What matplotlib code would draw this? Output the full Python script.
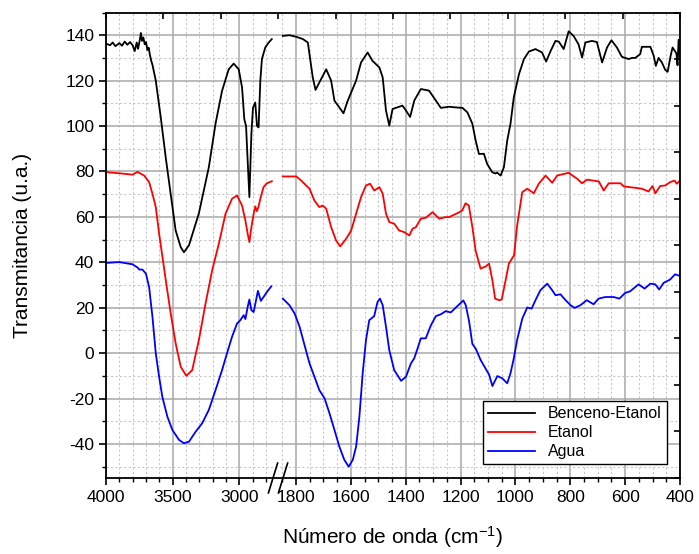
import matplotlib
matplotlib.use('Agg')
import numpy as np
import matplotlib.pyplot as plt
from matplotlib.ticker import FixedLocator, NullFormatter

plt.rcParams['font.family'] = ['Liberation Sans', 'DejaVu Sans']
plt.rcParams['mathtext.default'] = 'regular'
plt.rcParams['axes.unicode_minus'] = False

# Benceno-Etanol (black)
wn_be = [4000, 3970, 3950, 3930, 3900, 3880, 3860, 3840, 3820, 3800, 3785, 3770, 3760, 3745,
         3739, 3730, 3720, 3710, 3700, 3690, 3680, 3670, 3660, 3652, 3627, 3590, 3552,
         3515, 3478, 3440, 3416, 3378, 3304, 3229, 3179, 3130, 3080, 3043, 3005, 2980, 2963,
         2950, 2938, 2925, 2910, 2898, 2881, 2868, 2856, 2843, 2831, 2806, 2780, 2757,
         1848, 1824, 1799, 1775, 1757, 1751, 1739, 1729, 1715, 1690, 1672, 1660, 1642, 1627,
         1612, 1581, 1563, 1539, 1521, 1496, 1484, 1472, 1460, 1448, 1412, 1400, 1384, 1369,
         1345, 1315, 1290, 1272, 1242, 1217, 1193, 1175, 1157, 1145, 1133, 1115, 1103, 1085,
         1073, 1067, 1054, 1042, 1030, 1018, 1006, 987, 969, 951, 927, 903, 888, 872, 854,
         842, 824, 806, 788, 770, 757, 745, 721, 703, 684, 666, 650, 630, 612, 587, 575, 563,
         545, 539, 508, 496, 488, 478, 466, 454, 445, 434, 427, 413, 409, 405, 400]
tr_be = [136.3, 135.6, 136.8, 135.2, 136.5, 135.4, 137.2, 135.8, 137.0, 135.5, 133.0, 136.8,
         134.0, 138.5, 141.0, 137.5, 139.0, 136.0, 137.0, 133.5, 134.5, 131.0, 128.5, 127.0,
         120.0, 104.0, 86.0, 70.0, 54.0, 46.7, 44.4, 47.5, 61.5, 81.9, 101.0, 115.5, 125.0,
         127.5, 125.0, 117.0, 103.0, 100.0, 84.8, 68.7, 96.6, 108.0, 110.4, 100.0, 99.4, 120.0,
         129.5, 134.6, 136.8, 138.3,
         139.7, 140.0, 139.3, 138.3, 136.8, 131.7, 121.4, 115.9, 119.2, 125.0, 120.0, 111.2,
         108.2, 105.6, 111.0, 120.0, 128.0, 132.4, 128.7, 125.8, 121.4, 106.8, 100.2, 107.5,
         109.0, 107.0, 104.0, 111.2, 116.3, 115.6, 111.2, 108.0, 108.5, 108.2, 108.0, 106.0,
         101.0, 93.6, 87.7, 87.8, 83.3, 79.7, 79.1, 79.5, 78.2, 81.9, 93.6, 101.0, 112.6,
         122.9, 129.5, 132.8, 133.9, 132.4, 128.4, 133.0, 137.5, 137.2, 133.9, 141.7, 139.7,
         136.0, 130.2, 136.8, 137.5, 137.0, 128.0, 134.6, 137.8, 134.6, 130.5, 129.5, 130.0,
         130.0, 131.7, 134.9, 134.9, 131.0, 126.5, 130.0, 128.0, 124.8, 123.9, 131.0, 134.6,
         132.0, 126.8, 138.0, 130.0]

# Etanol (red)
wn_et = [4000, 3900, 3801, 3764, 3714, 3677, 3652, 3627, 3602, 3552, 3515, 3478, 3440, 3398,
         3354, 3304, 3254, 3204, 3154, 3104, 3055, 3018, 2980, 2955, 2938, 2925, 2910, 2893,
         2881, 2869, 2856, 2843, 2819, 2794, 2757,
         1848, 1799, 1781, 1763, 1751, 1733, 1715, 1703, 1690, 1672, 1654, 1639, 1617, 1599,
         1581, 1563, 1545, 1530, 1515, 1496, 1484, 1472, 1460, 1442, 1424, 1406, 1387, 1375,
         1363, 1345, 1327, 1302, 1278, 1254, 1242, 1212, 1194, 1182, 1170, 1157, 1145, 1127,
         1108, 1096, 1084, 1074, 1060, 1050, 1036, 1024, 1005, 994, 975, 957, 933, 915, 890,
         866, 848, 806, 775, 757, 739, 696, 678, 660, 617, 605, 563, 539, 515, 500, 490, 472,
         454, 436, 420, 412, 400]
tr_et = [79.7, 79.2, 78.6, 79.8, 78.2, 75.3, 70.2, 64.3, 52.6, 32.1, 17.4, 4.3, -6.0, -10.0,
         -7.5, 5.7, 21.8, 36.5, 48.2, 61.4, 68.0, 69.4, 65.0, 58.4, 52.6, 48.9, 55.5, 61.4,
         64.6, 62.5, 64.6, 68.0, 73.1, 74.8, 75.7,
         77.8, 77.8, 76.0, 73.8, 72.4, 67.2, 64.3, 65.0, 63.6, 55.5, 49.6, 47.0, 50.4, 54.0,
         61.4, 68.7, 73.8, 74.6, 71.6, 73.1, 70.2, 61.4, 57.7, 57.0, 54.0, 53.3, 51.8, 54.8,
         55.5, 59.2, 59.6, 62.1, 59.2, 59.9, 59.9, 61.6, 62.8, 66.0, 65.0, 55.5, 45.0, 37.2,
         38.2, 39.4, 32.0, 24.0, 23.3, 23.6, 32.0, 39.4, 43.1, 56.0, 70.9, 72.4, 70.4, 74.6,
         78.2, 75.0, 78.2, 79.4, 76.8, 74.8, 76.4, 75.6, 71.6, 74.8, 74.8, 73.4, 72.8, 72.4,
         71.2, 73.6, 70.4, 73.6, 73.8, 75.3, 76.0, 74.6, 76.0]

# Agua (blue)
wn_ag = [4000, 3901, 3801, 3764, 3751, 3727, 3701, 3677, 3652, 3627, 3602, 3578, 3540, 3503,
         3453, 3416, 3378, 3328, 3279, 3229, 3179, 3130, 3093, 3055, 3018, 2993, 2968, 2955,
         2938, 2925, 2910, 2893, 2875, 2861, 2839, 2819, 2794, 2761,
         1848, 1824, 1805, 1787, 1769, 1751, 1733, 1715, 1696, 1678, 1660, 1642, 1624, 1608,
         1593, 1581, 1569, 1557, 1545, 1533, 1515, 1503, 1494, 1484, 1472, 1460, 1442, 1417,
         1399, 1381, 1369, 1357, 1345, 1327, 1308, 1290, 1272, 1254, 1236, 1217, 1190, 1181,
         1169, 1157, 1145, 1127, 1108, 1096, 1084, 1066, 1048, 1030, 1018, 1006, 994, 975,
         957, 941, 927, 909, 884, 866, 854, 836, 817, 799, 784, 763, 740, 715, 697, 672, 642,
         621, 600, 582, 551, 529, 508, 490, 476, 460, 436, 418, 408, 400]
tr_ag = [39.7, 40.1, 39.1, 37.7, 36.8, 36.8, 35.0, 29.1, 16.0, -0.1, -10.4, -19.2, -28.0,
         -33.8, -38.2, -39.7, -39.0, -34.6, -30.9, -25.0, -16.3, -7.5, -0.1, 7.2, 13.0, 14.5,
         16.7, 15.0, 20.3, 23.6, 18.9, 18.1, 23.3, 27.4, 23.0, 24.7, 26.9, 29.4,
         24.0, 21.1, 17.4, 11.6, 3.5, -4.5, -10.4, -16.3, -19.9, -26.5, -33.8, -41.2, -47.0,
         -50.0, -47.0, -41.2, -28.0, -8.9, 5.7, 14.5, 16.3, 22.5, 24.0, 21.1, 11.6, 1.3, -7.5,
         -12.2, -10.4, -4.5, -2.3, 2.0, 6.5, 6.5, 12.3, 16.3, 17.1, 18.5, 17.9, 20.1, 23.2,
         21.1, 14.0, 4.0, 2.0, -3.0, -7.0, -9.5, -14.5, -10.1, -11.1, -13.3, -8.9, -2.3, 5.7,
         15.2, 20.1, 19.6, 23.3, 27.7, 30.6, 27.7, 25.5, 25.9, 23.3, 21.1, 19.9, 21.1, 23.3,
         21.5, 24.0, 24.7, 24.7, 24.0, 26.5, 27.2, 30.3, 28.4, 30.6, 30.3, 28.0, 30.9, 32.4,
         34.7, 34.3, 34.0]

series = [('Benceno-Etanol', wn_be, tr_be, 'black'),
          ('Etanol', wn_et, tr_et, 'red'),
          ('Agua', wn_ag, tr_ag, 'blue')]

x_ticks = [4000, 3500, 3000, 1800, 1600, 1400, 1200, 1000, 800, 600, 400]
y_ticks = [-40, -20, 0, 20, 40, 60, 80, 100, 120, 140]

# broken wavenumber axis: 4000-2750 compressed, 1850-400 expanded (increasing in w)
brk_w = [400, 1850, 2750, 4000]
brk_u = [0.0, 397.7, 407.3, 574.0]


def fwd(w):
    return np.interp(w, brk_w, brk_u)


def inv(u):
    return np.interp(u, brk_u, brk_w)


fig = plt.figure(figsize=(6.99, 5.54), dpi=100)
ax = fig.add_axes([0.1517, 0.1372, 0.8211, 0.8402])
ax.set_xscale('function', functions=(fwd, inv))
ax.set_xlim(4000, 400)
ax.set_ylim(-55, 150)

for label, wn, tr, color in series:
    wn = np.array(wn)
    tr = np.array(tr)
    hi = wn >= 2700
    lo = wn <= 1900
    ax.plot(wn[hi], tr[hi], color=color, lw=1.3, label=label)
    ax.plot(wn[lo], tr[lo], color=color, lw=1.3)

minor_x = [w for w in range(3900, 2700, -100) if w % 500 != 0] + \
          [w for w in range(1850, 400, -50) if w % 200 != 0]
ax.xaxis.set_major_locator(FixedLocator(x_ticks))
ax.xaxis.set_minor_locator(FixedLocator(minor_x))
ax.xaxis.set_minor_formatter(NullFormatter())
ax.set_xticklabels([str(t) for t in x_ticks])
ax.set_yticks(y_ticks)
ax.yaxis.set_minor_locator(FixedLocator(np.arange(-50, 151, 20)))

ax.grid(True, which='major', color='#a8a8a8', lw=1.1)
ax.grid(True, which='minor', color='#c8c8c8', lw=0.8, ls=(0, (2, 2)))
ax.set_axisbelow(True)

ax.tick_params(which='major', direction='out', length=5, width=1.2, labelsize=12.5,
               top=False, right=False)
ax.tick_params(which='minor', direction='out', length=3, width=1.0, top=False, right=False)
for s in ax.spines.values():
    s.set_linewidth(1.3)

# break marks on the bottom axis
for px in [273.0, 283.0]:
    xa = (px - 106) / 574.0
    ax.plot([xa - 0.008, xa + 0.008], [-0.032, 0.032], color='black', lw=1.2,
            transform=ax.transAxes, clip_on=False)

# equally spaced inner ticks on top and right (layer frame)
ov = fig.add_axes(ax.get_position(), frameon=False)
ov.set_xlim(0, 10)
ov.set_ylim(0, 10)
ov.set_xticks(range(11))
ov.set_yticks(range(11))
ov.tick_params(direction='in', length=4, width=1.2, top=True, right=True, bottom=False,
               left=False, labeltop=False, labelright=False, labelbottom=False,
               labelleft=False)
ov.patch.set_visible(False)

ax.set_xlabel('Número de onda (cm$^{-1}$)', fontsize=15, labelpad=14)
ax.set_ylabel('Transmitancia (u.a.)', fontsize=15, labelpad=24)

leg = ax.legend(loc='lower right', bbox_to_anchor=(0.977, 0.03), fontsize=11.5,
                fancybox=False, edgecolor='black', framealpha=1, borderpad=0.3,
                handlelength=3.0, labelspacing=0.25, borderaxespad=0)
leg.get_frame().set_linewidth(1.0)

plt.savefig('out.png', dpi=100)
